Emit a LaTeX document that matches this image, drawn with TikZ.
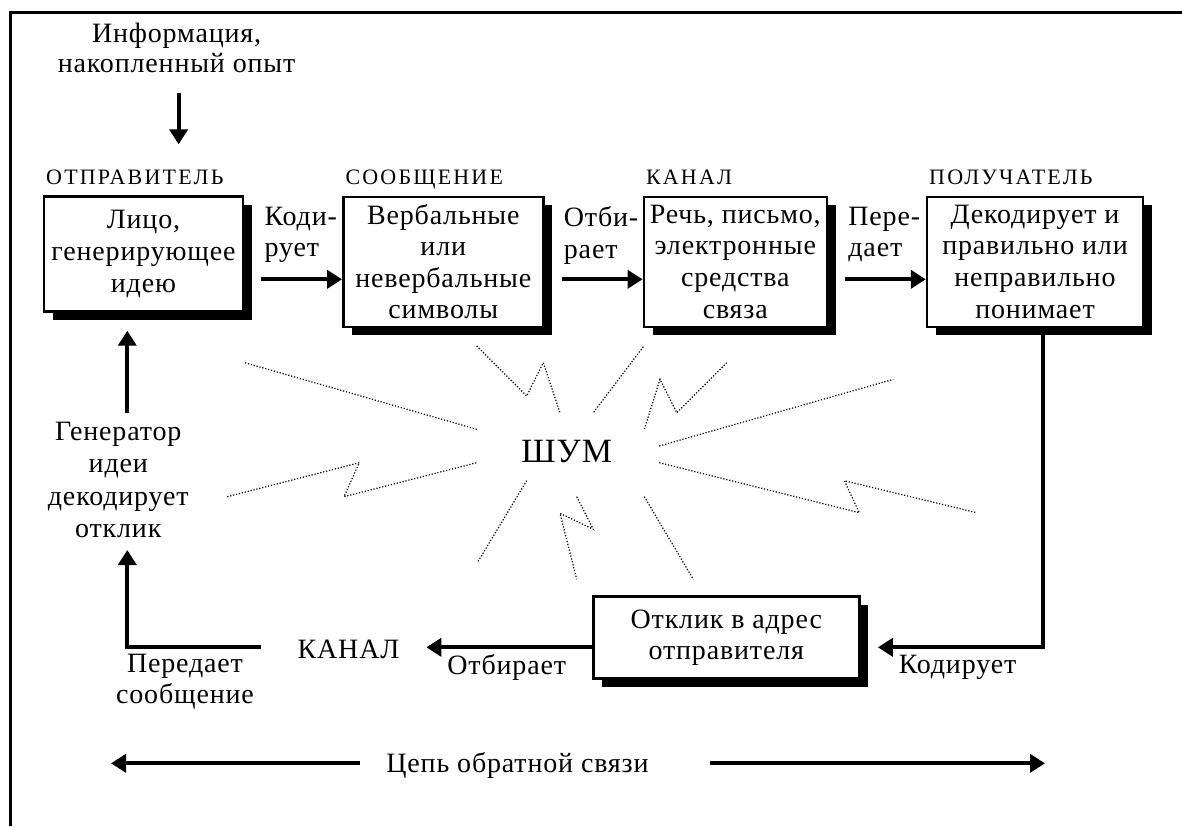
\documentclass[tikz,border=0pt]{standalone}
\usepackage{fontspec}
\setmainfont{Liberation Serif}[LetterSpace=3]
\newfontfamily\headfont{Liberation Serif}[LetterSpace=10]
\usetikzlibrary{arrows.meta,shadows}

\tikzset{
  box/.style={draw, line width=1.2pt, fill=white, align=center, inner sep=1pt,
    drop shadow={shadow xshift=4.5pt, shadow yshift=-4pt, fill=black, opacity=1}},
  txt/.style={align=center, inner sep=0pt},
  lbl/.style={align=left, inner sep=0pt, anchor=north west},
  head/.style={anchor=base west, inner sep=0pt, font=\fontsize{11}{13}\selectfont\headfont},
  arr/.style={line width=2pt, ->},
  noise/.style={line width=0.6pt, dash pattern=on 0.6pt off 0.9pt}
}

\begin{document}
\begin{tikzpicture}[x=0.5pt, y=-0.5pt, line join=miter, font=\fontsize{14}{15.8}\selectfont,
  >={Triangle[length=7.5pt,width=9pt]}]
\useasboundingbox (0,0) rectangle (1182,826);
\draw[line width=1.5pt] (10,826) -- (10,12) -- (1182,12);

% boxes of the chain
\node[box, minimum width=99.5pt, minimum height=57.5pt] (send) at (143.5,254) {Лицо,\\генерирующее\\идею};
\node[box, minimum width=100pt, minimum height=65pt] (msg) at (443.3,261.7) {Вербальные\\или\\невербальные\\символы};
\node[box, minimum width=91.5pt, minimum height=65pt] (chan) at (735.3,261.7) {Речь, письмо,\\электронные\\средства\\связа};
\node[box, minimum width=108pt, minimum height=65pt] (recv) at (1035,261.7) {Декодирует и\\правильно или\\неправильно\\понимает};
\node[box, minimum width=133pt, minimum height=41pt] (resp) at (726.3,637.5) {Отклик в адрес\\отправителя};

\foreach \b/\t in {send/ОТПРАВИТЕЛЬ, msg/СООБЩЕНИЕ, chan/КАНАЛ, recv/ПОЛУЧАТЕЛЬ}
  \node[head] (h\b) at ([xshift=1.5pt, yshift=5.5pt]\b.north west) {\t};

\node[lbl] (enc) at ([xshift=10pt, yshift=-5.5pt]send.north east) {Коди-\\рует};
\node[lbl] (sel) at ([xshift=9.5pt, yshift=-5.5pt]msg.north east) {Отби-\\рает};
\node[lbl] (tr) at ([xshift=10pt, yshift=-5.5pt]chan.north east) {Пере-\\дает};

\node[txt, font=\fontsize{14}{15}\selectfont] (info) at (176.6,48) {Информация,\\накопленный опыт};
\node[txt, font=\fontsize{14}{16.1}\selectfont] (gen) at (118.3,480) {Генератор\\идеи\\декодирует\\отклик};
\node[txt, font=\fontsize{17}{20}\selectfont] (shum) at (566.7,452) {ШУМ};
\node[txt] (kan) at (348.5,649) {КАНАЛ};
\node[txt, font=\fontsize{14}{15.3}\selectfont] (pass) at (185,682) {Передает\\сообщение};
\node[txt] (sel2) at (506.7,667) {Отбирает};
\node[txt] (enc2) at (957.5,667) {Кодирует};
\node[txt] (loop) at (517.5,765) {Цепь обратной связи};

% forward arrows
\coordinate (row) at (0,279.3);
\draw[arr, shorten <=10pt, shorten >=12.5pt] ([xshift=1pt]info.south) -- ([xshift=1pt]info.south |- hsend.north);
\draw[arr] ([xshift=8.5pt]send.east |- row) -- (msg.west |- row);
\draw[arr] ([xshift=8.5pt]msg.east |- row) -- (chan.west |- row);
\draw[arr] ([xshift=8.5pt]chan.east |- row) -- (recv.west |- row);

% feedback
\coordinate (fb) at (0,647.3);
\coordinate (fbl) at (111,763.3);
\coordinate (fbr) at (1045,763.3);
\draw[arr] ([xshift=4.2pt]recv.south) |- ([xshift=8.7pt]resp.east |- fb);
\draw[arr] (resp.west |- fb) -- ([xshift=13.3pt]kan.east |- fb);
\draw[arr] ([xshift=-18.3pt]kan.west |- fb) -| ([xshift=4.5pt, yshift=-6pt]gen.south);
\draw[arr, shorten >=9pt] ([xshift=4.5pt, yshift=4.5pt]gen.north) -- ([xshift=4.5pt]gen.north |- send.south);
\draw[arr] ([xshift=-12.9pt]loop.west |- fbl) -- (fbl);
\draw[arr] ([xshift=30.3pt]loop.east |- fbr) -- (fbr);

% noise
\draw[noise] (245,362.7) -- (476.7,429.3);
\draw[noise] (227.3,496.7) -- (359.3,462.7) -- (344,496.7) -- (476.7,462.7);
\draw[noise] (476.7,346) -- (526.7,396) -- (543.3,362.7) -- (560,412.7);
\draw[noise] (643.3,346.7) -- (593.3,412.7);
\draw[noise] (726.7,362.7) -- (676.7,412.7) -- (660,379.3) -- (644.3,429.3);
\draw[noise] (659.3,446) -- (893.3,379.3);
\draw[noise] (659.3,462.7) -- (859.3,512.7) -- (844.3,480.7) -- (976.7,512.7);
\draw[noise] (526.7,480.7) -- (477.3,562.7);
\draw[noise] (576.7,496.7) -- (593.3,529.3) -- (560,513.3) -- (576.7,579.3);
\draw[noise] (644.3,496.7) -- (693.3,579.3);
\end{tikzpicture}
\end{document}
